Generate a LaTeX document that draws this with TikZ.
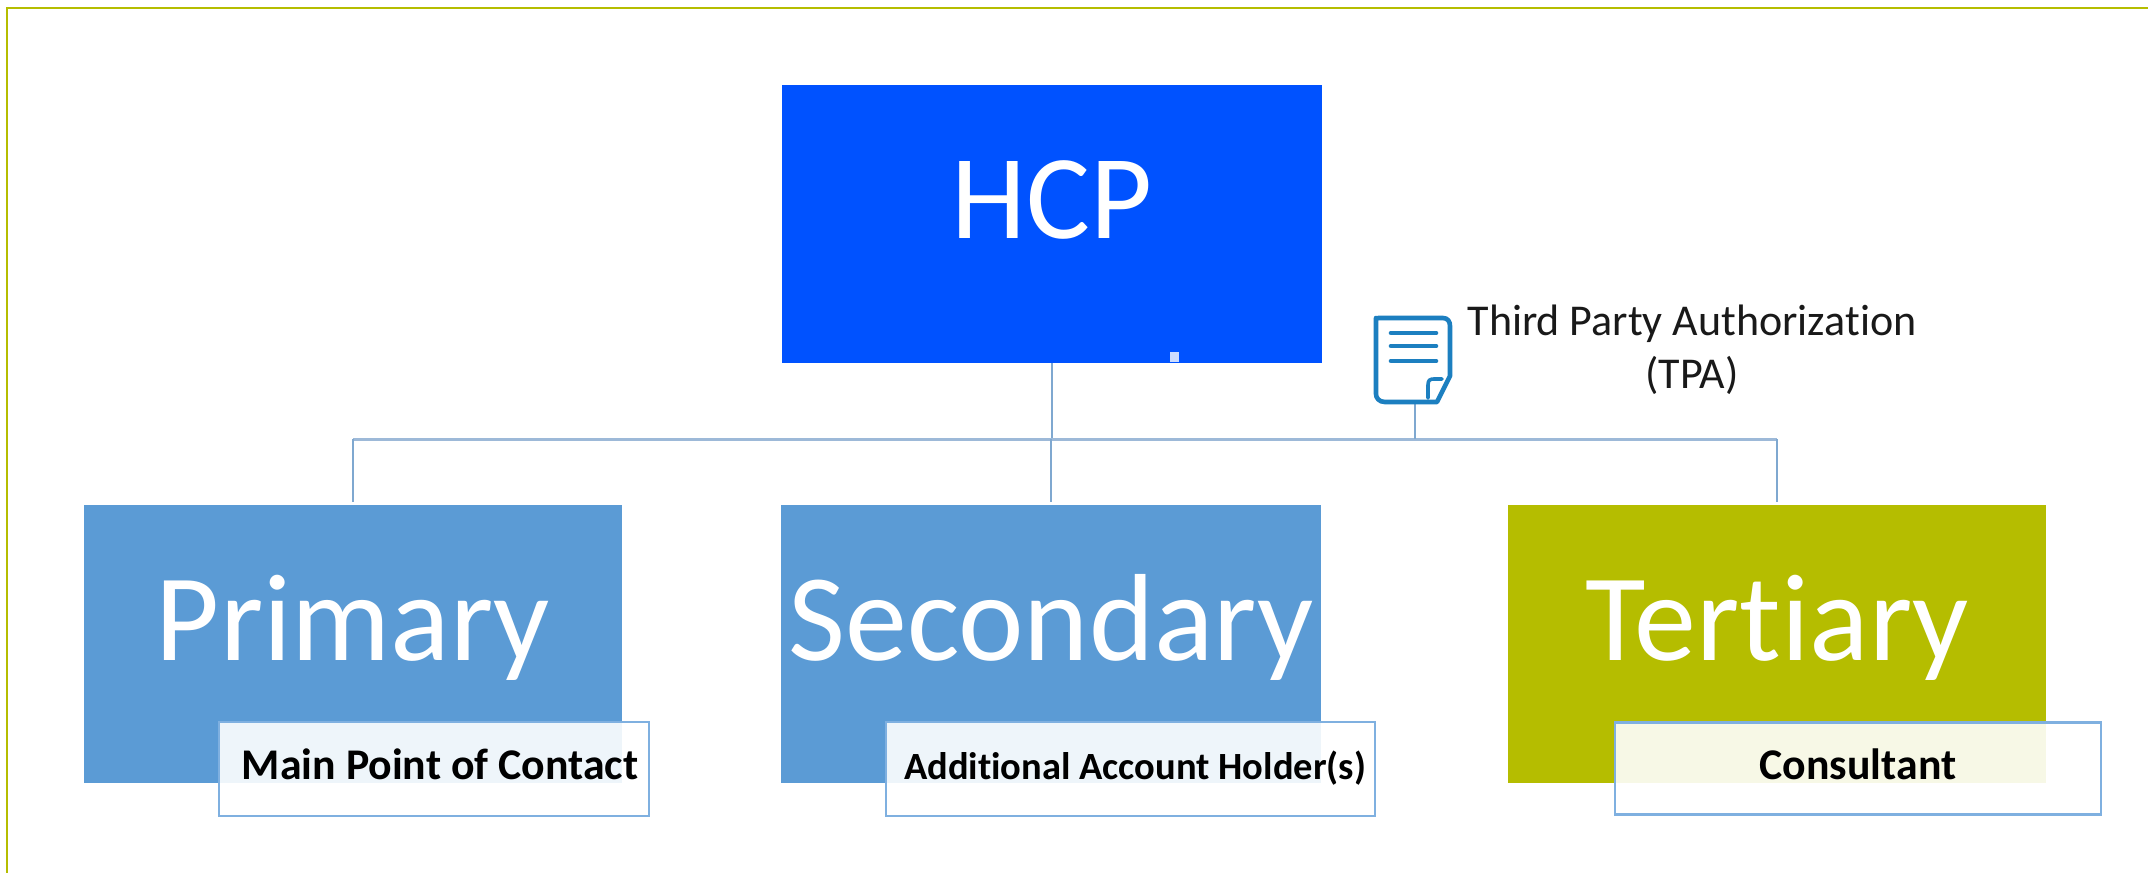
\documentclass[tikz,border=0pt]{standalone}
\usepackage{fontspec}
\setmainfont[Ligatures=NoCommon]{Carlito}
\definecolor{hcpblue}{HTML}{0052FF}
\definecolor{midblue}{HTML}{5B9BD5}
\definecolor{olive}{HTML}{B5BD00}
\definecolor{busline}{HTML}{9DB9D8}
\definecolor{dropline}{HTML}{7FA8D0}
\definecolor{noteline}{HTML}{7FB0E0}
\definecolor{iconblue}{HTML}{1C7FC0}
\tikzset{
  tierbox/.style={rectangle,inner sep=0pt,text=white},
  tiertext/.style={inner sep=0pt,text=white,font=\fontsize{124}{124}\selectfont},
  notebox/.style={rectangle,inner sep=0pt,draw=noteline,line width=2.2pt,fill=white,fill opacity=0.9},
  notetext/.style={inner sep=0pt,text=black},
  busstyle/.style={draw=busline,line width=3pt},
  dropstyle/.style={draw=dropline,line width=1.8pt},
  iconline/.style={draw=iconblue,line width=4.6pt,line cap=round,line join=round},
}
\begin{document}
\begin{tikzpicture}[x=1pt,y=-1pt]
\useasboundingbox (0,0) rectangle (2148,873);
\fill[white] (0,0) rectangle (2148,873);
\draw[olive,line width=2pt] (7,873) -- (7,8) -- (2148,8);
\node[tierbox,fill=hcpblue,minimum width=540pt,minimum height=278pt] (hcp) at (1052,224) {};
\node[tiertext,font=\fontsize{120}{120}\selectfont] (hcplabel) at (1052,200) {HCP};
\fill[white!80!hcpblue] (1170,352) rectangle (1179,362);
\node[tierbox,fill=midblue,minimum width=538pt,minimum height=278pt] (prim) at (353,643.5) {};
\node[tierbox,fill=midblue,minimum width=540pt,minimum height=278pt] (sec) at (1051,643.5) {};
\node[tierbox,fill=olive,minimum width=538pt,minimum height=278pt] (ter) at (1777,643.5) {};
\node[tiertext,anchor=base] (primlabel) at (353,660) {Primary};
\node[tiertext,anchor=base] (seclabel) at (1051,660) {Secondary};
\node[tiertext,anchor=base] (terlabel) at (1777,660) {Tertiary};
\coordinate (bus) at (1052,439);
\coordinate (docbase) at (1415,403);
\draw[dropstyle] (hcp.south) -- (bus);
\draw[busstyle] (prim.north |- bus) -- (ter.north |- bus);
\draw[dropstyle] (prim.north |- bus) -- ([yshift=2pt]prim.north);
\draw[dropstyle] (sec.north |- bus) -- ([yshift=2pt]sec.north);
\draw[dropstyle] (ter.north |- bus) -- ([yshift=2pt]ter.north);
\draw[dropstyle] (docbase) -- (docbase |- bus);
\node[notebox,minimum width=430pt,minimum height=94pt] (n1) at (434,769) {};
\node[notebox,minimum width=489pt,minimum height=94pt] (n2) at (1130.5,769) {};
\node[notebox,minimum width=486pt,minimum height=92pt] (n3) at (1858,768.5) {};
\node[notetext,font=\bfseries\fontsize{43.8}{43.8}\selectfont] (n1label) at (440,764) {Main Point of Contact};
\node[notetext,font=\bfseries\fontsize{38.5}{38.5}\selectfont] (n2label) at (1135,768) {Additional Account Holder(s)};
\node[notetext,font=\bfseries\fontsize{43.8}{43.8}\selectfont] (n3label) at (1858,764) {Consultant};
\draw[iconline] (1378,318) -- (1443,318) .. controls (1448,318) and (1450,322) .. (1450,326) -- (1450,376) -- (1437,402) -- (1385,402) .. controls (1379,402) and (1376,398) .. (1376,394) -- (1376,318);
\draw[iconline] (1391,333) -- (1436,333);
\draw[iconline] (1391,346) -- (1436,346);
\draw[iconline] (1391,361) -- (1436,361);
\draw[iconline,line width=3.6pt] (1428,398) -- (1428,385) .. controls (1428,380) and (1430,379) .. (1434,379) -- (1442,379);
\node[inner sep=0pt,align=center,font=\fontsize{44}{53}\selectfont,text=black!90] (tpa) at (1692,350) {Third Party Authorization\\(TPA)};
\end{tikzpicture}
\end{document}
